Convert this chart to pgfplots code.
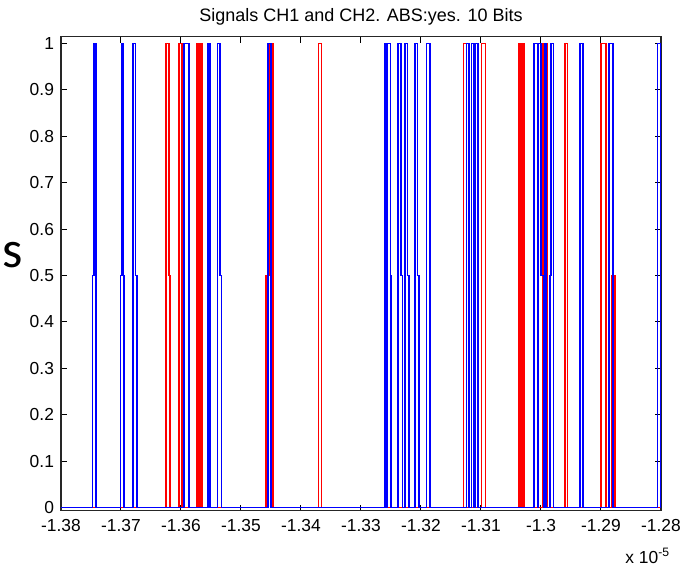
\documentclass[border=0pt]{standalone}
\usepackage{pgfplots}
\pgfplotsset{compat=1.18}
\usepackage{fontspec}
\setmainfont{Liberation Sans}
\newfontfamily\calibri{Carlito}
\begin{document}
\begin{tikzpicture}
\begin{axis}[
  at={(0,0)}, anchor=south west,
  width=300pt, height=237pt, scale only axis,
  xmin=-1.38, xmax=-1.28, ymin=-0.00646, ymax=1.0142,
  xtick={-1.38,-1.37,-1.36,-1.35,-1.34,-1.33,-1.32,-1.31,-1.30,-1.29,-1.28},
  xticklabels={-1.38,-1.37,-1.36,-1.35,-1.34,-1.33,-1.32,-1.31,-1.3,-1.29,-1.28},
  ytick={0,0.1,0.2,0.3,0.4,0.5,0.6,0.7,0.8,0.9,1},
  yticklabels={0,0.1,0.2,0.3,0.4,0.5,0.6,0.7,0.8,0.9,1},
  tick align=inside, major tick length=3pt,
  tick style={black, line width=0.5pt},
  axis line style={black!85, line width=0.6pt},
  ticklabel style={font=\fontsize{8.7}{10}\selectfont},
  xticklabel style={yshift=-1pt},
]
\addplot[red, line width=0.75pt, no markers] coordinates {
(-1.38,0)
(-1.36247,0)(-1.36247,1)(-1.36202,1)(-1.36202,0.5)(-1.36180,0.5)(-1.36180,0)
(-1.36030,0)(-1.36030,1)(-1.35980,1)(-1.35980,0)
(-1.35735,0)(-1.35735,1)(-1.35710,1)(-1.35710,0)(-1.35696,0)(-1.35696,1)(-1.35671,1)(-1.35671,0)(-1.35663,0)(-1.35663,1)(-1.35646,1)(-1.35646,0)
(-1.34583,0)(-1.34583,0.5)(-1.34528,0.5)(-1.34528,1)(-1.34469,1)(-1.34469,0)
(-1.33705,0)(-1.33705,1)(-1.33659,1)(-1.33659,0)
(-1.31294,0)(-1.31294,1)(-1.31239,1)(-1.31239,0)
(-1.30993,0)(-1.30993,1)(-1.30922,1)(-1.30922,0)
(-1.30366,0)(-1.30366,1)(-1.30337,1)(-1.30337,0)(-1.30320,0)(-1.30320,1)(-1.30287,1)(-1.30287,0)
(-1.29965,0)(-1.29965,1)(-1.29903,1)(-1.29903,0)
(-1.29603,0)(-1.29603,1)(-1.29558,1)(-1.29558,0)
(-1.29002,0)(-1.29002,1)(-1.28918,1)(-1.28918,0)
(-1.28818,0)(-1.28818,0.5)(-1.28763,0.5)(-1.28763,0)
(-1.28,0)
};
\addplot[blue, line width=0.75pt, no markers] coordinates {
(-1.38,0)
(-1.37477,0)(-1.37477,0.5)(-1.37449,0.5)(-1.37449,1)(-1.37416,1)(-1.37416,0)
(-1.37010,0)(-1.37010,0.5)(-1.36993,0.5)(-1.36993,1)(-1.36970,1)(-1.36970,0.5)(-1.36948,0.5)(-1.36948,0)
(-1.36803,0)(-1.36803,1)(-1.36760,1)(-1.36760,0.5)(-1.36736,0.5)(-1.36736,0)
(-1.35947,0)(-1.35947,1)(-1.35868,1)(-1.35868,0)
(-1.35551,0)(-1.35551,1)(-1.35513,1)(-1.35513,0)
(-1.35391,0)(-1.35391,1)(-1.35346,1)(-1.35346,0.5)(-1.35324,0.5)(-1.35324,0)
(-1.34553,0)(-1.34553,1)(-1.34503,1)(-1.34503,0)
(-1.32608,0)(-1.32608,1)(-1.32586,1)(-1.32586,0)
(-1.32569,0)(-1.32569,1)(-1.32508,1)(-1.32508,0.5)(-1.32496,0.5)(-1.32496,0)
(-1.32382,0)(-1.32382,1)(-1.32336,1)(-1.32336,0.5)(-1.32312,0.5)(-1.32312,0)
(-1.32269,0)(-1.32269,1)(-1.32224,1)(-1.32224,0.5)(-1.32202,0.5)(-1.32202,0)
(-1.32102,0)(-1.32102,1)(-1.32057,1)(-1.32057,0.5)(-1.32032,0.5)(-1.32032,0)
(-1.31912,0)(-1.31912,1)(-1.31851,1)(-1.31851,0)
(-1.31239,0)(-1.31239,1)(-1.31200,1)(-1.31200,0)
(-1.31155,0)(-1.31155,1)(-1.31117,1)(-1.31117,0)
(-1.31088,0)(-1.31088,1)(-1.31050,1)(-1.31050,0)
(-1.30115,0)(-1.30115,1)(-1.30058,1)(-1.30058,0)
(-1.30048,0)(-1.30048,1)(-1.30003,1)(-1.30003,0.5)(-1.29958,0.5)(-1.29958,0)
(-1.29937,0)(-1.29937,1)(-1.29915,1)(-1.29915,0)
(-1.29853,0)(-1.29853,0.5)(-1.29836,0.5)(-1.29836,1)(-1.29791,1)(-1.29791,0)
(-1.29347,0)(-1.29347,1)(-1.29302,1)(-1.29302,0)
(-1.28868,0)(-1.28868,1)(-1.28801,1)(-1.28801,0)
(-1.28055,0)(-1.28055,1)(-1.28012,1)(-1.28012,0)
(-1.28,0)
};
\end{axis}
\node[anchor=base, inner sep=0pt, font=\fontsize{9}{10}\selectfont] at (150pt,244.6pt) {Signals CH1 and CH2. ABS:yes. 10 Bits};
\node[anchor=base west, inner sep=0pt, font=\calibri\fontsize{26}{26}\selectfont] at (-29.5pt,121.35pt) {s};
\node[anchor=base west, inner sep=0pt, font=\fontsize{8.7}{10}\selectfont] at (282pt,-26.5pt) {x 10\textsuperscript{-5}};
\pgfresetboundingbox
\path[use as bounding box] (-30.5pt,-30.15pt) rectangle (318.5pt,255.35pt);
\end{tikzpicture}
\end{document}
